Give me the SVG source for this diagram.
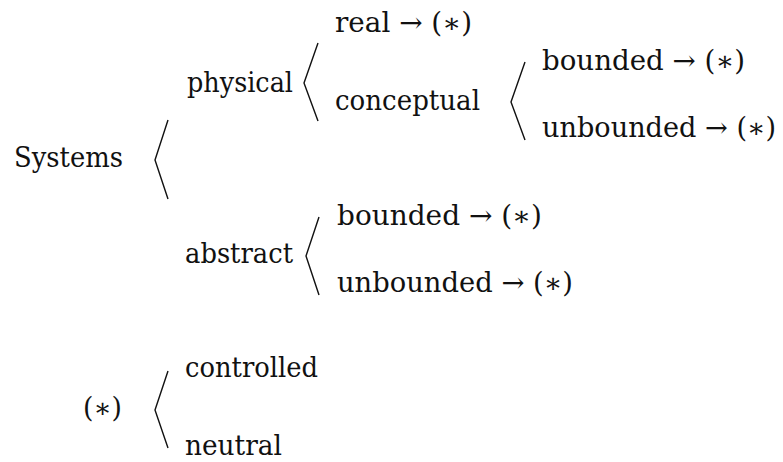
<svg xmlns="http://www.w3.org/2000/svg" width="783" height="462" viewBox="0 0 783 462">
<style>
text{font-family:'DejaVu Serif','Liberation Serif',serif;font-size:27px;fill:#111;}
.br{fill:none;stroke:#111;stroke-width:1.4;stroke-linejoin:miter;}
</style>
<rect width="783" height="462" fill="#fff"/>
<g id="connectors">
<polyline class="br" points="168,120 155,160 168,199"/>
<polyline class="br" points="318,43 304,83 318,121"/>
<polyline class="br" points="525,62 511,102 525,140"/>
<polyline class="br" points="319,217 306,256 319,295"/>
<polyline class="br" points="168,371 155,410 168,448"/>
</g>
<g id="systems"><text x="14" y="167" textLength="109" lengthAdjust="spacingAndGlyphs">Systems</text></g>
<g id="physical"><text x="187" y="92" textLength="106" lengthAdjust="spacingAndGlyphs">physical</text></g>
<g id="real"><text x="335" y="32" textLength="137" lengthAdjust="spacingAndGlyphs">real → (∗)</text></g>
<g id="conceptual"><text x="335" y="110" textLength="145" lengthAdjust="spacingAndGlyphs">conceptual</text></g>
<g id="conceptual-bounded"><text x="542" y="70" textLength="203" lengthAdjust="spacingAndGlyphs">bounded → (∗)</text></g>
<g id="conceptual-unbounded"><text x="542" y="137" textLength="234" lengthAdjust="spacingAndGlyphs">unbounded → (∗)</text></g>
<g id="abstract"><text x="185" y="263" textLength="108" lengthAdjust="spacingAndGlyphs">abstract</text></g>
<g id="abstract-bounded"><text x="337" y="225" textLength="205" lengthAdjust="spacingAndGlyphs">bounded → (∗)</text></g>
<g id="abstract-unbounded"><text x="337" y="292" textLength="236" lengthAdjust="spacingAndGlyphs">unbounded → (∗)</text></g>
<g id="star"><text x="83" y="417" textLength="39" lengthAdjust="spacingAndGlyphs">(∗)</text></g>
<g id="controlled"><text x="185" y="377" textLength="133" lengthAdjust="spacingAndGlyphs">controlled</text></g>
<g id="neutral"><text x="185" y="455" textLength="97" lengthAdjust="spacingAndGlyphs">neutral</text></g>
</svg>
